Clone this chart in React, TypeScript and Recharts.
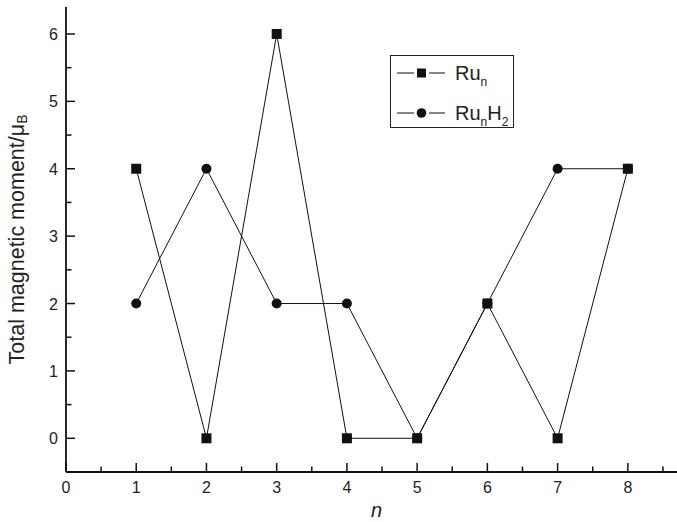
import React from 'react';
import { LineChart, Line, XAxis, YAxis } from 'recharts';

// Cluster size n
const clusterSizes = [1, 2, 3, 4, 5, 6, 7, 8];
// Total magnetic moment (μB) of bare Ru_n clusters
const ruMoments = [4, 0, 6, 0, 0, 2, 0, 4];
// Total magnetic moment (μB) of Ru_nH2 clusters
const ruH2Moments = [2, 4, 2, 2, 0, 2, 4, 4];

const xTicks = [0, 0.5, 1, 1.5, 2, 2.5, 3, 3.5, 4, 4.5, 5, 5.5, 6, 6.5, 7, 7.5, 8, 8.5];
const yTicks = [0, 0.5, 1, 1.5, 2, 2.5, 3, 3.5, 4, 4.5, 5, 5.5, 6];

// Legend entries, in display order
const legendKeys = ['ru', 'ruH2'];

const data = clusterSizes.map((n, i) => ({ n, ru: ruMoments[i], ruH2: ruH2Moments[i] }));

const FONT = '"Liberation Sans", Arial, Helvetica, sans-serif';
const INK = '#111';

const XTick = (props: any) => {
  const { x, y, payload } = props;
  const major = Number.isInteger(payload.value);
  return (
    <g>
      <line x1={x} x2={x} y1={y} y2={y - (major ? 9 : 5.5)} stroke={INK} strokeWidth={1.5} />
      {major && (
        <text x={x} y={y + 21} textAnchor="middle" fontSize={16} fontFamily={FONT} fill="#222">
          {payload.value}
        </text>
      )}
    </g>
  );
};

const YTick = (props: any) => {
  const { x, y, payload } = props;
  const major = Number.isInteger(payload.value);
  return (
    <g>
      <line x1={x} x2={x + (major ? 9 : 5.5)} y1={y} y2={y} stroke={INK} strokeWidth={1.5} />
      {major && (
        <text x={x - 8} y={y + 6} textAnchor="end" fontSize={16} fontFamily={FONT} fill="#222">
          {payload.value}
        </text>
      )}
    </g>
  );
};

const SquareDot = (props: any) => {
  const { cx, cy } = props;
  if (cx == null || cy == null) return null;
  return <rect x={cx - 5} y={cy - 5} width={10} height={10} fill={INK} />;
};

const CircleDot = (props: any) => {
  const { cx, cy } = props;
  if (cx == null || cy == null) return null;
  return <circle cx={cx} cy={cy} r={5} fill={INK} />;
};

const YTitle = (props: any) => {
  const { viewBox } = props;
  const cx = 17;
  const cy = viewBox.y + viewBox.height / 2;
  return (
    <text
      x={cx}
      y={cy}
      transform={`rotate(-90, ${cx}, ${cy})`}
      textAnchor="middle"
      dominantBaseline="central"
      fontSize={21.5}
      fontFamily={FONT}
      fill="#222"
    >
      Total magnetic moment/μ
      <tspan fontSize={14} dy={5}>B</tspan>
    </text>
  );
};

const XTitle = (props: any) => {
  const { viewBox } = props;
  return (
    <text
      x={viewBox.x + viewBox.width / 2 + 5}
      y={viewBox.y + 45}
      textAnchor="middle"
      fontSize={20}
      fontStyle="italic"
      fontFamily={FONT}
      fill="#222"
    >
      n
    </text>
  );
};

const LegendLabel = ({ dataKey, x, y }: { dataKey: string; x: number; y: number }) => (
  <text x={x} y={y} fontSize={20} fontFamily={FONT} fill="#222">
    Ru
    <tspan fontSize={12} dy={6}>n</tspan>
    {dataKey === 'ruH2' && (
      <>
        <tspan fontSize={20} dy={-6}>H</tspan>
        <tspan fontSize={12} dy={6}>2</tspan>
      </>
    )}
  </text>
);

const LegendBox = () => (
  <div
    style={{
      position: 'absolute',
      left: 390,
      top: 55,
      width: 124,
      height: 73,
      border: '1px solid #222',
      boxSizing: 'border-box',
      background: '#fff',
    }}
  >
    <svg width={122} height={71} style={{ display: 'block', overflow: 'visible' }}>
      {legendKeys.map((key, i) => {
        const cy = 17 + i * 40;
        return (
          <g key={key}>
            <line x1={6} x2={23} y1={cy} y2={cy} stroke={INK} strokeWidth={1} />
            <line x1={38} x2={54} y1={cy} y2={cy} stroke={INK} strokeWidth={1} />
            {key === 'ru' ? (
              <rect x={26} y={cy - 4.5} width={9} height={9} fill={INK} />
            ) : (
              <circle cx={30.5} cy={cy} r={4.8} fill={INK} />
            )}
            <LegendLabel dataKey={key} x={64} y={cy + 7} />
          </g>
        );
      })}
    </svg>
  </div>
);

export default function App() {
  return (
    <div style={{ position: 'absolute', left: 0, top: 0, width: 677, height: 522, background: '#fff' }}>
      <LineChart width={677} height={522} data={data} margin={{ top: 7, right: 0, left: 0, bottom: 0 }}>
        <XAxis
          dataKey="n"
          type="number"
          domain={[0, 8.7]}
          ticks={xTicks}
          interval={0}
          tickSize={0}
          tickMargin={0}
          tickLine={false}
          tick={<XTick />}
          height={50}
          axisLine={{ stroke: INK, strokeWidth: 1.8 }}
          label={<XTitle />}
        />
        <YAxis
          type="number"
          domain={[-0.5, 6.4]}
          ticks={yTicks}
          interval={0}
          tickSize={0}
          tickMargin={0}
          tickLine={false}
          tick={<YTick />}
          width={66}
          axisLine={{ stroke: INK, strokeWidth: 1.8 }}
          label={<YTitle />}
        />
        <Line
          dataKey="ruH2"
          name="RunH2"
          stroke={INK}
          strokeWidth={1}
          dot={<CircleDot />}
          activeDot={false}
          isAnimationActive={false}
        />
        <Line
          dataKey="ru"
          name="Run"
          stroke={INK}
          strokeWidth={1}
          dot={<SquareDot />}
          activeDot={false}
          isAnimationActive={false}
        />
      </LineChart>
      <LegendBox />
    </div>
  );
}
